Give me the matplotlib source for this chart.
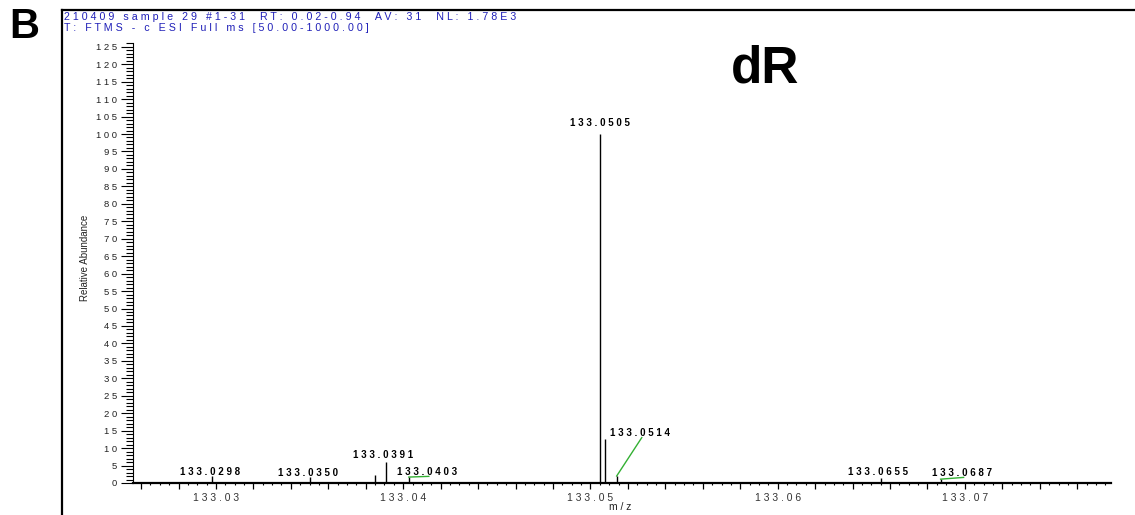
import numpy as np
import matplotlib
matplotlib.use('Agg')
import matplotlib.pyplot as plt
from matplotlib.ticker import MultipleLocator
from matplotlib.lines import Line2D

plt.rcParams['font.family'] = ['Liberation Sans', 'DejaVu Sans']

# spectrum sticks (m/z, relative abundance)
peak_mz = [133.0298, 133.0350, 133.0385, 133.0391, 133.0403, 133.0505, 133.0508, 133.0514, 133.0655, 133.0687]
peak_int = [2.0, 1.7, 2.3, 6.1, 1.7, 100.0, 12.6, 2.0, 1.4, 1.1]

# labelled peaks
label_mz = [133.0298, 133.0350, 133.0391, 133.0403, 133.0505, 133.0514, 133.0655, 133.0687]
label_text = ['133.0298', '133.0350', '133.0391', '133.0403', '133.0505', '133.0514', '133.0655', '133.0687']

x_ticklabels = ['133.03', '133.04', '133.05', '133.06', '133.07']
y_ticks = list(range(0, 126, 5))

header1 = '210409 sample 29 #1-31  RT: 0.02-0.94  AV: 31  NL: 1.78E3'
header2 = 'T: FTMS - c ESI Full ms [50.00-1000.00]'

# where the labels sit (centre, data units) - label offsets from the picture
label_pos = {
    '133.0298': (133.02968, 3.2),
    '133.0350': (133.03491, 2.9),
    '133.0391': (133.03892, 8.0),
    '133.0403': (133.04127, 3.2),
    '133.0505': (133.05050, 103.2),
    '133.0514': (133.05264, 14.3),
    '133.0655': (133.06534, 3.2),
    '133.0687': (133.06983, 2.9),
}


def sp(s):
    # the instrument software prints its text letter-spaced
    return ' '.join(s)


W, H = 1135, 515
fig = plt.figure(figsize=(W / 100, H / 100), dpi=100)
fig.patch.set_facecolor('white')

ymax = 126
ax = fig.add_axes([133 / W, (H - 483) / H, (1111 - 133) / W, ymax * 3.49 / H])
ax.set_xlim(133.02557, 133.0778)
ax.set_ylim(0, ymax)

ax.vlines(peak_mz, 0, peak_int, color='black', lw=1)

heights = dict(zip(peak_mz, peak_int))
for mz, txt in zip(label_mz, label_text):
    lx, ly = label_pos[txt]
    if abs(lx - mz) > 0.0005:
        ax.plot([mz, lx + 0.0001], [heights[mz], ly - 1.3], color='#33b033', lw=1)
    ax.text(lx, ly, sp(txt), ha='center', va='center', fontsize=7, fontweight='bold', color='black')

# axes styling
for s in ['top', 'right']:
    ax.spines[s].set_visible(False)
ax.spines['left'].set_linewidth(0.8)
ax.spines['bottom'].set_linewidth(1.6)

ax.set_yticks(y_ticks)
ax.set_yticklabels([sp(str(v)) for v in y_ticks])
ax.yaxis.set_minor_locator(MultipleLocator(1))
ax.tick_params(axis='y', which='major', length=8.5, width=0.8, pad=3, labelsize=6.8, labelcolor='#222222')
ax.tick_params(axis='y', which='minor', length=5, width=0.8)

xt = np.arange(133.026, 133.0779, 0.002)
xl = []
for v in xt:
    lab = '%.2f' % v
    if abs(v - float(lab)) < 1e-6 and lab in x_ticklabels:
        xl.append(sp(lab))
    else:
        xl.append('')
ax.set_xticks(xt)
ax.set_xticklabels(xl)
ax.xaxis.set_minor_locator(MultipleLocator(0.0005))
ax.tick_params(axis='x', which='major', length=4, width=0.9, pad=3, labelsize=7.5, labelcolor='#333333')
ax.tick_params(axis='x', which='minor', length=1.5, width=0.8)

fig.text(85 / W, 1 - 258 / H, 'Relative Abundance', rotation=90, ha='center', va='center',
         fontsize=7, color='#222222')
fig.text(620 / W, 1 - 507 / H, sp('m/z'), ha='center', va='center', fontsize=7.5, color='#222222')

# header in blue, frame lines
fig.text(64 / W, 1 - 17 / H, sp(header1), ha='left', va='center', fontsize=7.7, color='#2020b8')
fig.text(64 / W, 1 - 28 / H, sp(header2), ha='left', va='center', fontsize=7.7, color='#2020b8')
fig.add_artist(Line2D([62 / W, 1], [1 - 10 / H, 1 - 10 / H], color='black', lw=1.6, transform=fig.transFigure))
fig.add_artist(Line2D([62 / W, 62 / W], [0, 1 - 10 / H], color='black', lw=1.6, transform=fig.transFigure))

fig.text(24 / W, 1 - 27 / H, 'B', ha='center', va='center', fontsize=30, fontweight='bold')
fig.text(765 / W, 1 - 69 / H, 'dR', ha='center', va='center', fontsize=37, fontweight='bold')

fig.savefig('out.png', dpi=100)
